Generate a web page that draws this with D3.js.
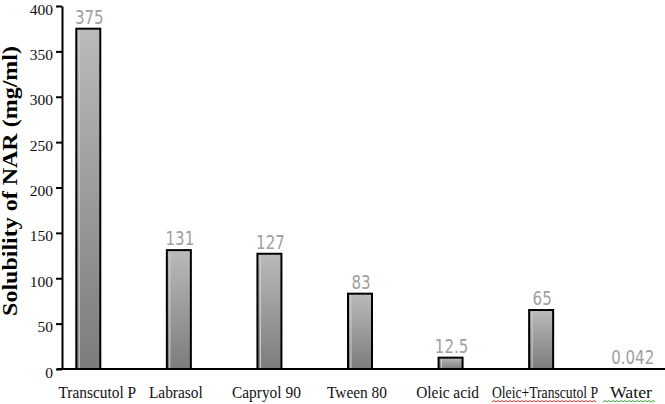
<!DOCTYPE html>
<html><head><meta charset="utf-8">
<script src="https://cdn.jsdelivr.net/npm/d3@7"></script>
<style>body{margin:0;background:#fff}svg{display:block}</style>
</head><body>
<script>
const categories = ["Transcutol P","Labrasol","Capryol 90","Tween 80","Oleic acid","Oleic+Transcutol P","Water"];
const values = [375,131,127,83,12.5,65,0.042];
const valueLabels = ["375","131","127","83","12.5","65","0.042"];
const yTicks = [0,50,100,150,200,250,300,350,400];

const W=665,H=404, SX=0.88;
const serif="'Liberation Serif','Times New Roman',serif";
const svg=d3.select("body").append("svg").attr("width",W).attr("height",H);
const defs=svg.append("defs");
const g=defs.append("linearGradient").attr("id","bg").attr("x1",0).attr("x2",0).attr("y1",0).attr("y2",1);
g.append("stop").attr("offset","0%").attr("stop-color","#bababa");
g.append("stop").attr("offset","100%").attr("stop-color","#7c7c7c");

const x=d3.scaleBand().domain(categories).range([43,677]).paddingInner(0.735).paddingOuter(0.3675);
const y=d3.scaleLinear().domain([0,400]).range([369,6]);

// bars
const bars=values.map((v,i)=>({v,c:categories[i],l:valueLabels[i]}));
svg.selectAll("rect.bar").data(bars).enter().append("rect")
 .attr("x",d=>x(d.c)).attr("width",x.bandwidth())
 .attr("y",d=>y(d.v)).attr("height",d=>y(0)-y(d.v))
 .attr("fill","url(#bg)").attr("stroke",d=>d.v<1?"none":"#000").attr("stroke-width",2);
svg.selectAll("line.hl").data(bars.filter(d=>d.v>=1)).enter().append("line")
 .attr("x1",d=>x(d.c)+3).attr("x2",d=>x(d.c)+3)
 .attr("y1",d=>y(d.v)+2).attr("y2",y(0)-1).attr("stroke","#cdcdcd").attr("stroke-width",1);

// value labels
svg.selectAll("text.val").data(bars).enter().append("text")
 .attr("transform",d=>`translate(${x(d.c)+x.bandwidth()/2+1},${y(d.v)-5}) scale(${SX},1)`)
 .attr("text-anchor","middle")
 .attr("font-family","'Liberation Sans Narrow','Arial Narrow','DejaVu Sans Condensed',sans-serif")
 .attr("font-size",19).attr("fill","#a0a0a0")
 .text(d=>d.l);

// y axis
const ya=svg.append("g").attr("transform","translate(62,0)")
 .call(d3.axisLeft(y).tickValues(yTicks).tickSize(6).tickPadding(3).tickSizeOuter(0));
ya.select(".domain").attr("stroke","#000").attr("stroke-width",2);
ya.selectAll(".tick line").attr("stroke","#000").attr("stroke-width",2);
ya.selectAll(".tick text").attr("font-family",serif).attr("font-size",15.5).attr("fill","#111")
 .attr("dy","0.52em");

// x axis
const xa=svg.append("g").attr("transform","translate(0,369)")
 .call(d3.axisBottom(x).tickSize(0).tickPadding(17));
xa.select(".domain").attr("d","M57,0H665").attr("stroke","#000").attr("stroke-width",2);
xa.selectAll(".tick text").attr("font-family",serif).attr("font-size",17.5).attr("fill","#111")
 .attr("transform",`translate(-3,0) scale(${SX},1)`);
xa.selectAll(".tick text").filter(d=>d==="Transcutol P").attr("transform",`translate(9,0) scale(${SX},1)`);
xa.selectAll(".tick").filter(d=>d==="Oleic+Transcutol P").attr("transform","translate(545,0)")
 .select("text").attr("transform","scale(0.78,1)");
xa.selectAll(".tick").filter(d=>d==="Water").attr("transform","translate(631,0)")
 .select("text").attr("transform","scale(1.02,1)");

// spell-check wavy underlines
function wavy(x0,x1,yy,color){
  let p=`M${x0},${yy}`;let up=true;
  for(let xx=x0+2;xx<=x1;xx+=2){p+=`L${xx},${yy+(up?-1.5:0)}`;up=!up;}
  svg.append("path").attr("d",p).attr("fill","none").attr("stroke",color).attr("stroke-width",1);
}
wavy(492,596,402,"#e0302a");
wavy(603,655,402,"#3aa53a");

// y title
svg.append("text").attr("transform","translate(17,181) rotate(-90) scale(1,0.85)")
 .attr("text-anchor","middle")
 .attr("font-family",serif)
 .attr("font-weight","bold").attr("font-size",24).attr("fill","#000")
 .text("Solubility of NAR (mg/ml)");
</script>
</body></html>
